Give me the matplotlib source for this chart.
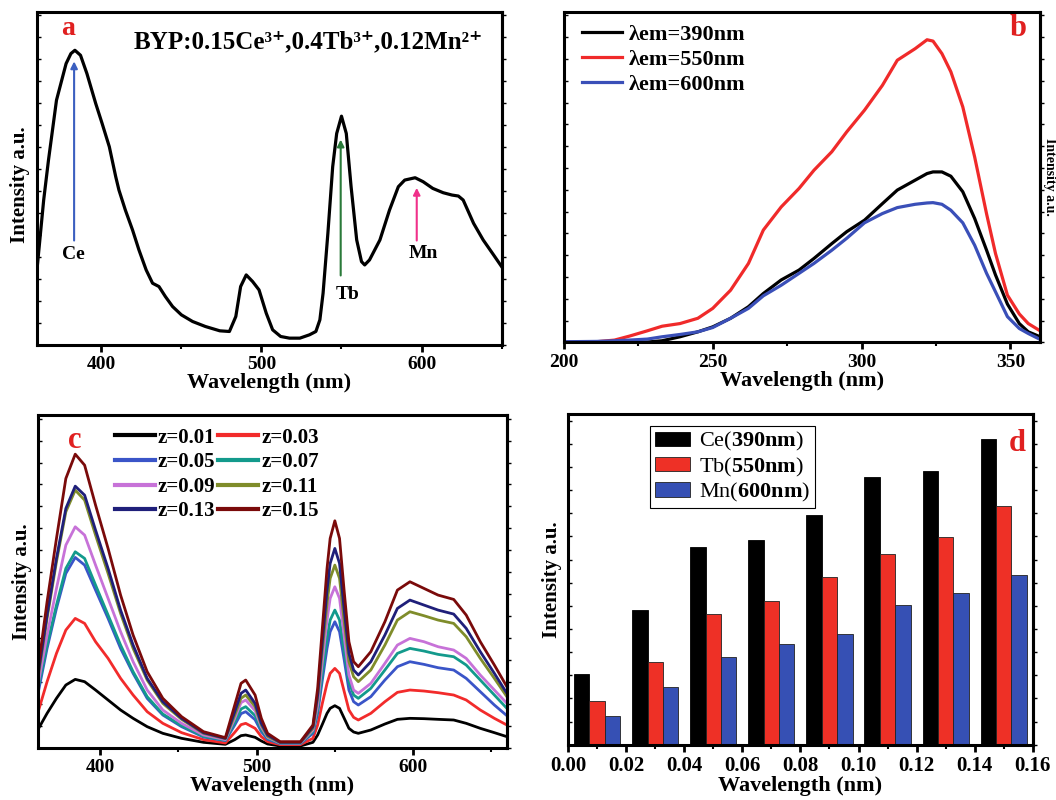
import matplotlib.pyplot as plt
import numpy as np

plt.rcParams['font.family'] = ['Liberation Serif', 'DejaVu Serif']
plt.rcParams['font.weight'] = 'bold'
plt.rcParams['axes.labelweight'] = 'bold'
plt.rcParams['mathtext.fontset'] = 'custom'
plt.rcParams['mathtext.rm'] = 'Liberation Serif:weight=normal'
plt.rcParams['mathtext.bf'] = 'Liberation Serif:weight=bold'
plt.rcParams['axes.linewidth'] = 2.2

# panel a: emission spectrum
wl_a = [360, 364, 367, 372, 378, 381, 383.5, 387, 391, 396.5, 400.5, 405, 409, 411, 415, 419.5,
        423.5, 428, 432, 436, 440, 444.5, 450, 457, 465, 474, 480, 484, 487, 490.5, 494.5, 498.5,
        503, 507, 512, 517.5, 524, 530, 534, 536.5, 538.5, 541.5, 544.5, 547, 550, 553, 556,
        559.5, 562.5, 564.5, 567.5, 574, 580, 585.5, 589.5, 596, 601, 607, 613.5, 619, 623, 626,
        632.5, 638.5, 645, 650]
int_a = [23.5, 43.5, 55.5, 73.5, 84.5, 87.5, 88.5, 87, 81.5, 72.5, 66.5, 59.5, 50.5, 46.5, 40.5,
         34.5, 28.5, 22.5, 18.5, 17.5, 14.5, 11.5, 9, 7, 5.5, 4.2, 4, 8.5, 17.5, 21, 19, 16.5, 9.5,
         4.5, 2.5, 2, 2, 3, 4, 7.5, 15.5, 33.5, 53.5, 63.5, 68.7, 63.5, 47.5, 31.5, 25, 24, 25.5,
         31.5, 40.5, 47.5, 49.5, 50.2, 49, 47, 45.7, 45, 44.7, 43.5, 36.5, 31.5, 27, 23.5]

# panel b: excitation spectra
wl_b = [200, 211, 217, 222, 228, 233, 239, 245, 250, 256, 262, 267, 273, 279, 284, 290, 295, 301,
        307, 312, 318, 322, 324, 327, 330, 334, 338, 342, 345, 349, 353, 356, 360]
ex_390 = [0, 0, 0, 0, 0.1, 0.5, 1.7, 3.2, 4.7, 7.3, 10.8, 14.8, 18.9, 21.9, 25.4, 29.9, 33.5, 37,
          42, 46.1, 49.1, 51.1, 51.6, 51.6, 50.3, 45.6, 37.5, 27.9, 20.4, 11.6, 5.7, 3.2, 1.7]
ex_550 = [0, 0.2, 0.7, 1.9, 3.5, 4.9, 5.7, 7.3, 10.3, 15.8, 23.9, 34, 41, 46.6, 52.1, 57.7, 63.7,
          70.3, 77.8, 85.4, 88.9, 91.6, 91.2, 87.4, 81.9, 71.3, 56.1, 38.9, 26.9, 14.3, 8.6, 5.7, 3.5]
ex_600 = [0.2, 0.3, 0.5, 0.7, 1, 1.7, 2.4, 3.2, 4.5, 7.3, 10.3, 14.1, 17.3, 20.9, 23.9, 27.9, 31.5,
          36.2, 39, 40.8, 41.8, 42.2, 42.3, 41.8, 40, 36.2, 29.4, 20.9, 15.3, 7.8, 4.2, 2.7, 0.9]

# panel c: emission vs z
wl_c = [360, 366, 372, 378, 384, 390, 397, 405, 413, 421, 430, 440, 452, 466, 480,
        486, 490, 493, 499, 503, 507, 515, 528,
        536, 539, 542, 545, 547, 550, 553, 556, 559, 562, 565,
        573, 582, 590, 598, 607, 616, 626, 634, 643, 652, 660]
z_labels = ['z=0.01', 'z=0.03', 'z=0.05', 'z=0.07', 'z=0.09', 'z=0.11', 'z=0.13', 'z=0.15']
em_c = [
    [5.5, 10.5, 15, 19, 20.7, 20, 17.5, 14.5, 11.5, 9, 6.5, 4.5, 3, 1.8, 1.2,
     2.6, 3.8, 4, 3.3, 2.2, 1.3, 0.7, 0.7,
     1.8, 4, 7.2, 10.5, 12, 12.8, 12, 9, 6, 4.9, 4.5,
     5.5, 7.3, 8.7, 9, 8.9, 8.7, 8.5, 7.5, 6, 4.7, 3.5],
    [10.5, 20, 28.5, 35.5, 39, 37.5, 32, 27, 21, 16, 11, 7.5, 4.7, 2.6, 1.6,
     4.8, 7.1, 7.5, 6, 3.5, 2, 1.1, 1.1,
     3, 7, 13.5, 19.5, 22.5, 24, 22.5, 17, 11.5, 9.3, 8.5,
     10.5, 14, 16.8, 17.5, 17.2, 16.7, 16, 14.5, 11.5, 9, 7],
    [16, 30, 42, 52.5, 57.3, 55, 47.5, 39, 30, 22.5, 15, 10, 6.5, 3.4, 2.3,
     7, 10.4, 11, 8.6, 5, 2.7, 1.4, 1.4,
     4.5, 10.5, 20.5, 30, 35, 38, 35, 26.5, 17.5, 14, 13,
     15.5, 20.5, 24.5, 26, 25.2, 24.2, 23.5, 21, 17, 13, 9.8],
    [17.5, 31, 43, 54, 59, 57, 49, 40, 31, 23, 15.5, 10.3, 6.8, 3.6, 2.4,
     7.8, 11.8, 12.5, 9.8, 5.6, 3, 1.5, 1.5,
     5, 11.5, 22.5, 33, 38.5, 41.5, 38.5, 29, 20, 16, 15,
     18, 23.5, 28.5, 30, 29.2, 28.2, 27.5, 25, 20.5, 16, 12],
    [18.5, 34, 48, 61, 66.5, 64, 55, 45, 35, 26, 17.5, 11.5, 7.5, 4, 2.6,
     9, 13.7, 14.5, 11.3, 6.4, 3.3, 1.6, 1.6,
     5.5, 13, 26, 38.5, 45, 48.5, 45, 33.5, 22, 17.5, 16.5,
     19.5, 25.5, 31, 33, 32, 30.5, 29.5, 27, 22, 17.5, 13.5],
    [20.5, 39, 56, 71, 77.5, 74.5, 64, 52.5, 40.5, 30, 20.5, 13.5, 8.7, 4.5, 2.9,
     10, 15, 16, 12.5, 7, 3.6, 1.7, 1.7,
     6, 15, 29.5, 43.5, 51, 55, 51, 38, 26, 21.5, 20,
     23.5, 31, 38.5, 41, 39.8, 38.5, 37.5, 33.5, 27, 21, 15.5],
    [21.5, 40, 57, 72, 78.7, 76, 65.5, 54, 41.5, 31, 21, 14, 9, 4.7, 3,
     11, 16.5, 17.5, 13.5, 7.5, 4, 1.8, 1.8,
     6.5, 16, 32, 47.5, 55.5, 60, 55.5, 41.5, 28.5, 23.5, 22,
     26, 34, 42, 44.5, 43, 41.5, 40.3, 36, 29, 22.5, 16.5],
    [23, 44, 63, 81, 88.3, 85, 73, 60, 46, 34, 23, 15, 9.5, 5, 3.2,
     13, 19.5, 20.5, 16, 9, 4.5, 2, 2,
     7, 18, 36, 54, 63, 68.3, 63, 47, 32, 26, 24.5,
     29, 38, 47.5, 50, 48, 46, 44.7, 40, 32, 25, 18.5],
]
c_colors = ['#000000', '#f22b2b', '#3a55c8', '#139a8c', '#c772d8', '#7f8c2a', '#1f1f7a', '#7a0a0a']

# panel d: peak intensities
z_d = [0.01, 0.03, 0.05, 0.07, 0.09, 0.11, 0.13, 0.15]
ce_d = [21.3, 40.8, 59.9, 61.9, 69.5, 81.1, 82.9, 92.4]
tb_d = [13.1, 24.9, 39.6, 43.5, 50.8, 57.7, 62.8, 72.1]
mn_d = [8.8, 17.6, 26.6, 30.6, 33.6, 42.3, 46.0, 51.3]


def style(ax, xlim, major, minor, ystep, lsize=14):
    ax.set_xlim(xlim)
    ax.set_ylim(0, 100)
    ax.set_xticks(major)
    ax.set_xticks(minor, minor=True)
    ax.tick_params(axis='x', which='major', direction='out', length=5, width=2, labelsize=lsize, pad=3)
    ax.tick_params(axis='x', which='minor', direction='out', length=3, width=1.5)
    yt = np.arange(0, 100, ystep)
    ax.set_yticks(yt)
    ax.tick_params(axis='y', direction='in', length=3, width=1, labelleft=False)
    sec = ax.secondary_yaxis('right')
    sec.set_yticks(yt)
    sec.tick_params(direction='out', length=3, width=1, labelright=False)
    sec.spines['right'].set_linewidth(2.2)


fig = plt.figure(figsize=(10.56, 8), dpi=100)
ax_a = fig.add_axes([0.0353, 0.569, 0.4397, 0.416])
ax_b = fig.add_axes([0.534, 0.572, 0.451, 0.413])
ax_c = fig.add_axes([0.0357, 0.0646, 0.4443, 0.4164])
ax_d = fig.add_axes([0.538, 0.069, 0.44, 0.4135])

# ---- a
ax_a.plot(wl_a, int_a, color='black', lw=2.3, solid_joinstyle='round')
style(ax_a, (360, 650), [400, 500, 600], [450, 550, 650], 6.6)
ax_a.set_xlabel('Wavelength (nm)', fontsize=16, labelpad=0)
ax_a.set_ylabel('Intensity a.u.', fontsize=15)
ax_a.yaxis.set_label_coords(-0.016, 0.48)
ax_a.annotate('', xy=(383, 86), xytext=(383, 30.5),
              arrowprops=dict(arrowstyle='-|>', color='#3b5fc0', lw=1.5, mutation_scale=10))
ax_a.annotate('', xy=(549.5, 62.5), xytext=(549.5, 20),
              arrowprops=dict(arrowstyle='-|>', color='#2a7a3a', lw=1.5, mutation_scale=10))
ax_a.annotate('', xy=(597, 48), xytext=(597, 30.5),
              arrowprops=dict(arrowstyle='-|>', color='#f0308a', lw=1.5, mutation_scale=10))
ax_a.text(382.5, 27, 'Ce', fontsize=14, ha='center', va='center')
ax_a.text(554, 15, 'Tb', fontsize=14, ha='center', va='center')
ax_a.text(601, 27.3, 'Mn', fontsize=14, ha='center', va='center')
ax_a.text(0.067, 0.95, 'a', transform=ax_a.transAxes, color='#e02020', fontsize=20,
          ha='center', va='center')
ax_a.text(0.584, 0.91, 'BYP:0.15Ce³⁺,0.4Tb³⁺,0.12Mn²⁺',
          transform=ax_a.transAxes, fontsize=18, ha='center', va='center')

# ---- b
ax_b.plot(wl_b, ex_390, color='black', lw=2.3, label='λem=390nm')
ax_b.plot(wl_b, ex_550, color='#f02a2a', lw=2.3, label='λem=550nm')
ax_b.plot(wl_b, ex_600, color='#3a4fb8', lw=2.3, label='λem=600nm')
style(ax_b, (200, 360), [200, 250, 300, 350], [225, 275, 325], 6.6)
ax_b.set_xlabel('Wavelength (nm)', fontsize=16, labelpad=0)
ax_b.legend(loc='upper left', bbox_to_anchor=(0.013, 1.0), frameon=False, fontsize=16,
            handlelength=1.8, handletextpad=0.3, labelspacing=0.2, borderaxespad=0.15)
ax_b.text(0.954, 0.951, 'b', transform=ax_b.transAxes, color='#e02020', fontsize=22,
          ha='center', va='center')
fig.text(0.9935, 0.779, 'Intensity a.u.', rotation=270, fontsize=10, ha='center', va='center')

# ---- c
lines = []
for lab, col, y in zip(z_labels, c_colors, em_c):
    ln, = ax_c.plot(wl_c, y, color=col, lw=2.0, solid_joinstyle='round', label=lab)
    lines.append(ln)
style(ax_c, (360, 660), [400, 500, 600], [450, 550, 650], 6.6)
ax_c.set_xlabel('Wavelength (nm)', fontsize=16, labelpad=0)
ax_c.set_ylabel('Intensity a.u.', fontsize=15)
ax_c.yaxis.set_label_coords(-0.012, 0.5)
order = [0, 2, 4, 6, 1, 3, 5, 7]
leg_c = ax_c.legend([lines[i] for i in order], [z_labels[i] for i in order], ncol=2,
                    loc='upper left', bbox_to_anchor=(0.138, 1.0), frameon=False, fontsize=15,
                    handlelength=1.9, handletextpad=0.15, labelspacing=0.22, columnspacing=0.15,
                    borderaxespad=0.2)
for ln in leg_c.get_lines():
    ln.set_linewidth(3)
ax_c.text(0.0795, 0.925, 'c', transform=ax_c.transAxes, color='#e02020', fontsize=22,
          ha='center', va='center')

# ---- d
w = 0.0053
zd = np.array(z_d)
ax_d.bar(zd - w, ce_d, width=w, color='black', edgecolor='black', lw=0.6,
         label=r'$\mathrm{Ce(}\mathbf{390nm}\mathrm{)}$')
ax_d.bar(zd, tb_d, width=w, color='#ee3026', edgecolor='#222222', lw=0.6,
         label=r'$\mathrm{Tb(}\mathbf{550nm}\mathrm{)}$')
ax_d.bar(zd + w, mn_d, width=w, color='#3650b4', edgecolor='#222222', lw=0.6,
         label=r'$\mathrm{Mn(}\mathbf{600nm}\mathrm{)}$')
dt = np.arange(0, 0.161, 0.02)
style(ax_d, (0, 0.16), dt, np.arange(0.01, 0.16, 0.02), 7, lsize=15)
ax_d.set_xticklabels([f'{v:.2f}' for v in dt])
ax_d.set_xlabel('Wavelength (nm)', fontsize=16, labelpad=0)
ax_d.set_ylabel('Intensity a.u.', fontsize=15)
ax_d.yaxis.set_label_coords(-0.0136, 0.5)
leg = ax_d.legend(loc='upper left', bbox_to_anchor=(0.177, 0.964), fontsize=16, frameon=True,
                  fancybox=False, edgecolor='black', framealpha=1, borderpad=0.2,
                  handlelength=1.6, handleheight=0.6, handletextpad=0.4, labelspacing=0.1,
                  borderaxespad=0)
leg.get_frame().set_linewidth(0.8)
ax_d.text(0.966, 0.912, 'd', transform=ax_d.transAxes, color='#e02020', fontsize=22,
          ha='center', va='center')

fig.savefig('out.png', dpi=100)
